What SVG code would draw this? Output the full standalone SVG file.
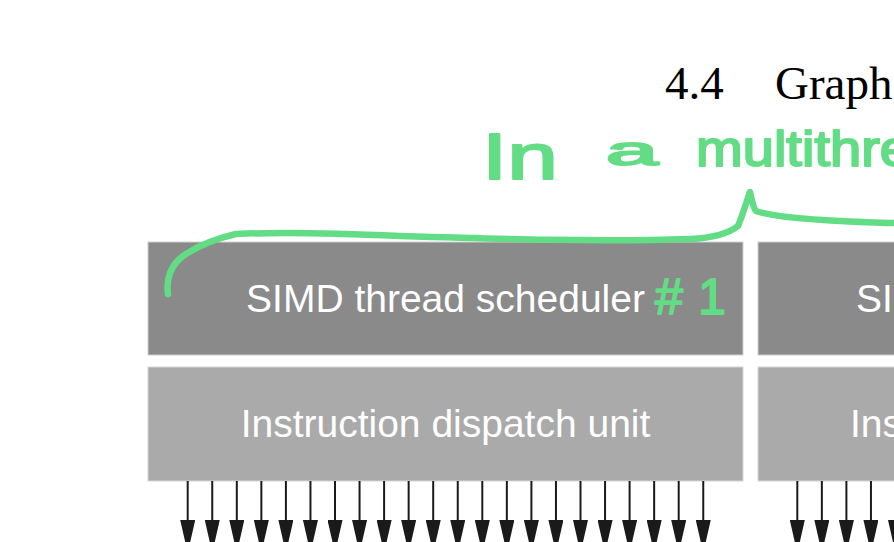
<svg xmlns="http://www.w3.org/2000/svg" width="894" height="542" viewBox="0 0 894 542">
<style>
.sched{fill:#8a8a8a;stroke:#cfcfcf;stroke-width:1}
.disp{fill:#aaaaaa;stroke:#d6d6d6;stroke-width:1}
.lbl{font-family:"Liberation Sans",Arial,Helvetica,sans-serif;font-size:39px;fill:#ffffff}
.title{font-family:"Liberation Serif","Times New Roman",serif;font-size:47px;fill:#000000}
.arrow{stroke:#1a1a1a;stroke-width:2;fill:none;marker-end:url(#ah)}
.ink{fill:none;stroke:#63dd85;stroke-width:6.5;stroke-linecap:round;stroke-linejoin:round}
.hand{font-family:"Liberation Sans",Arial,sans-serif;fill:#63dd85;stroke:#63dd85;stroke-width:2;stroke-linejoin:round}
</style>
<defs>
<marker id="ah" markerUnits="userSpaceOnUse" viewBox="0 0 33 15" markerWidth="33" markerHeight="15" refX="20" refY="7.5" orient="auto">
<path d="M0,0 L33,7.5 L0,15 Z" fill="#1a1a1a"/>
</marker>
</defs>
<rect width="894" height="542" fill="#ffffff"/>
<g id="title">
<text class="title" x="665" y="99">4.4</text>
<text class="title" x="775" y="99">Graph</text>
</g>
<g id="sched1">
<rect class="sched" x="148" y="242" width="595" height="113"/>
<text class="lbl" x="445.5" y="312" text-anchor="middle">SIMD thread scheduler</text>
</g>
<g id="dispatch1">
<rect class="disp" x="148" y="367" width="595" height="114"/>
<text class="lbl" x="445.5" y="437" text-anchor="middle">Instruction dispatch unit</text>
</g>
<g id="sched2">
<rect class="sched" x="758" y="242" width="595" height="113"/>
<text class="lbl" x="856" y="312">SI</text>
</g>
<g id="dispatch2">
<rect class="disp" x="758" y="367" width="595" height="114"/>
<text class="lbl" x="850" y="437">Ins</text>
</g>
<g id="connectors">
<line class="arrow" x1="187.7" y1="481" x2="187.7" y2="540"/>
<line class="arrow" x1="212.25" y1="481" x2="212.25" y2="540"/>
<line class="arrow" x1="236.8" y1="481" x2="236.8" y2="540"/>
<line class="arrow" x1="261.35" y1="481" x2="261.35" y2="540"/>
<line class="arrow" x1="285.9" y1="481" x2="285.9" y2="540"/>
<line class="arrow" x1="310.45" y1="481" x2="310.45" y2="540"/>
<line class="arrow" x1="335" y1="481" x2="335" y2="540"/>
<line class="arrow" x1="359.55" y1="481" x2="359.55" y2="540"/>
<line class="arrow" x1="384.1" y1="481" x2="384.1" y2="540"/>
<line class="arrow" x1="408.65" y1="481" x2="408.65" y2="540"/>
<line class="arrow" x1="433.2" y1="481" x2="433.2" y2="540"/>
<line class="arrow" x1="457.75" y1="481" x2="457.75" y2="540"/>
<line class="arrow" x1="482.3" y1="481" x2="482.3" y2="540"/>
<line class="arrow" x1="506.85" y1="481" x2="506.85" y2="540"/>
<line class="arrow" x1="531.4" y1="481" x2="531.4" y2="540"/>
<line class="arrow" x1="555.95" y1="481" x2="555.95" y2="540"/>
<line class="arrow" x1="580.5" y1="481" x2="580.5" y2="540"/>
<line class="arrow" x1="605.05" y1="481" x2="605.05" y2="540"/>
<line class="arrow" x1="629.6" y1="481" x2="629.6" y2="540"/>
<line class="arrow" x1="654.15" y1="481" x2="654.15" y2="540"/>
<line class="arrow" x1="678.7" y1="481" x2="678.7" y2="540"/>
<line class="arrow" x1="703.25" y1="481" x2="703.25" y2="540"/>
<line class="arrow" x1="797.3" y1="481" x2="797.3" y2="540"/>
<line class="arrow" x1="821.85" y1="481" x2="821.85" y2="540"/>
<line class="arrow" x1="846.4" y1="481" x2="846.4" y2="540"/>
<line class="arrow" x1="870.95" y1="481" x2="870.95" y2="540"/>
<line class="arrow" x1="895.5" y1="481" x2="895.5" y2="540"/>
</g>
<g id="annotation">
<path class="ink" d="M168,294 C166,280 170,264 186,254 C200,245 218,238 236,234 C280,232 330,233 400,236 C500,239 600,242 690,239 C712,238 728,234 738,226 C743,214 747,200 750,192 C752,200 753,208 756,211 C770,216 800,219 840,221 C860,222 880,223 894,223"/>
<text class="hand" x="482" y="179" font-size="64" textLength="76" lengthAdjust="spacingAndGlyphs">In</text>
<text class="hand" x="606" y="165" font-size="40" textLength="52" lengthAdjust="spacingAndGlyphs">a</text>
<text class="hand" x="696" y="166" font-size="50" textLength="215" lengthAdjust="spacingAndGlyphs">multithre</text>
<text class="hand" font-size="50" x="655 698" y="314">#1</text>
</g>
</svg>
